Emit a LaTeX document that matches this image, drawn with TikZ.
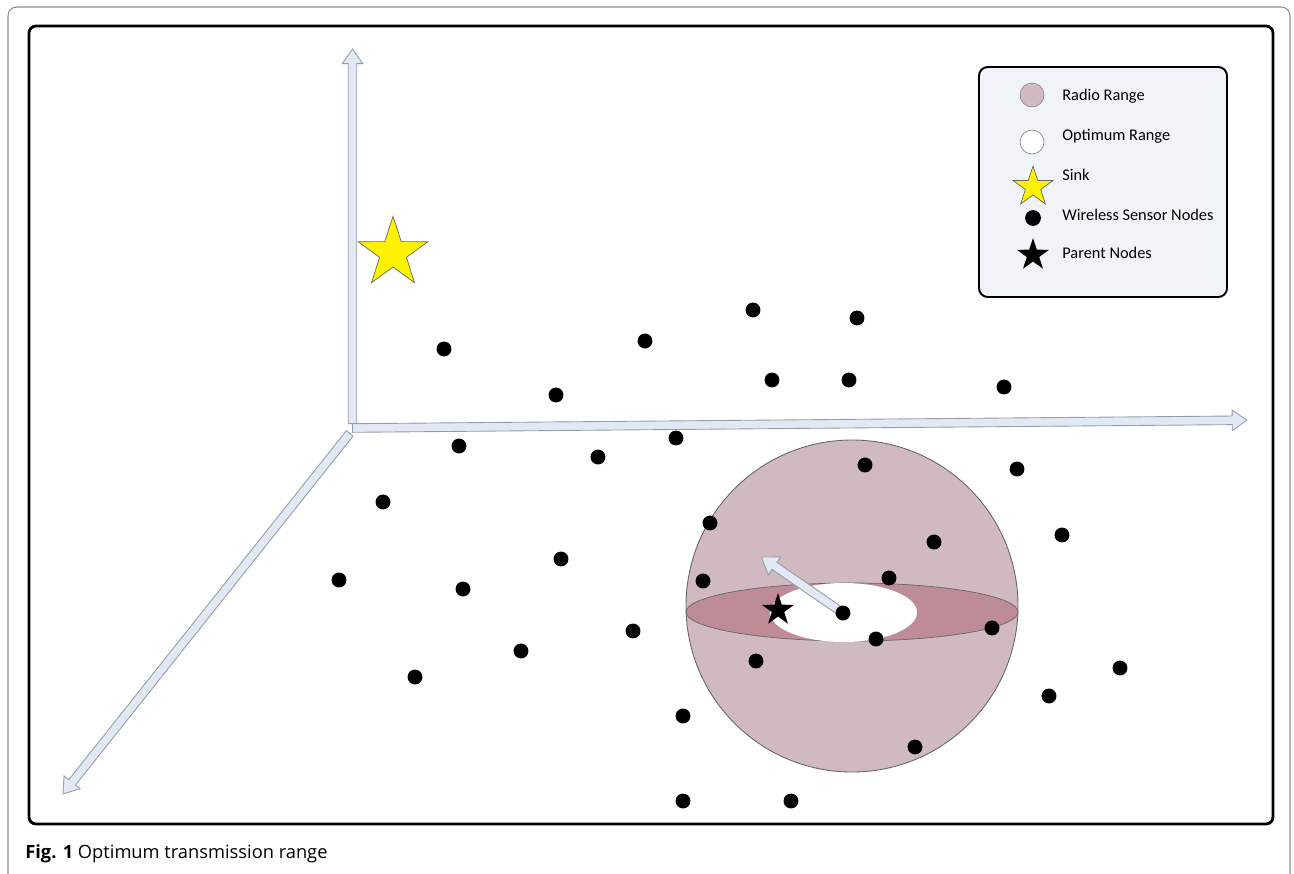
\documentclass[tikz,border=0pt]{standalone}
\usepackage{fontspec}
\setmainfont{Carlito}
\newfontfamily\capfont{Open Sans}
\usetikzlibrary{shapes.geometric,shapes.arrows}
\definecolor{axisfill}{RGB}{226,233,245}
\definecolor{axisedge}{RGB}{150,156,168}
\definecolor{radiofill}{RGB}{209,185,193}
\definecolor{ringfill}{RGB}{189,140,150}
\definecolor{legendfill}{RGB}{240,243,248}

\begin{document}
\begin{tikzpicture}[x=0.02cm, y=-0.02cm,
    sensor/.style={circle, fill=black, inner sep=0pt, minimum size=8.5pt},
    axisarrow/.style={single arrow, draw=axisedge, fill=axisfill, line width=0.5pt,
      inner xsep=0pt, inner ysep=2.2pt, single arrow head extend=3.4pt,
      single arrow tip angle=70, single arrow head indent=0pt, anchor=tail},
    sinkstar/.style={star, star points=5, star point ratio=2.6, fill=yellow,
      draw=black!60, line width=0.4pt, inner sep=0pt},
    parentstar/.style={star, star points=5, star point ratio=2.6, fill=black, inner sep=0pt},
    legendtext/.style={anchor=west, inner sep=0pt, font=\fontsize{9.3}{10}\selectfont}]
    \useasboundingbox (0,0) rectangle (1294,873);
    \clip (0,0) rectangle (1294,873);

    % Frames
    \draw[black!45, line width=0.6pt, rounded corners=5pt] (8,7) rectangle (1290,900);
    \draw[black, line width=1.6pt, rounded corners=4pt] (29,26) rectangle (1273,824);

    % Axes
    \coordinate (o) at (352,428);
    \node[axisarrow, minimum height=213.2pt, rotate=90] (yaxis) at (352.5,424) {};
    \node[axisarrow, minimum height=262.2pt, rotate=231.5] (zaxis) at (350,433) {};
    \node[axisarrow, minimum height=509.1pt, rotate=0.5] (xaxis) at (o) {};

    % Sink
    \node[sinkstar, minimum size=41.7pt] (sink) at (393,253) {};

    % Radio range sphere
    \coordinate (c) at (843,613);
    \draw[black!60, line width=0.5pt, fill=radiofill] (852,606) circle [radius=166];
    \draw[black!60, line width=0.4pt, fill=ringfill] (852,612) ellipse [x radius=166, y radius=29];
    \fill[white] (843.5,612.5) ellipse [x radius=73.5, y radius=29.5];
    \node[axisarrow, minimum height=56pt, single arrow head extend=3.8pt, rotate=145.5] (range) at (c) {};
    \node[parentstar, minimum size=19.3pt] (parent) at (778,610) {};

    % Wireless sensor nodes
    \foreach \px/\py [count=\i] in {444/349, 556/395, 645/341, 753/310, 857/318,
        772/380, 849/380, 1004/387, 459/446, 598/457, 676/438, 865/465, 1017/469,
        383/502, 710/523, 934/542, 1062/535, 561/559, 339/580, 463/589, 703/581,
        889/578, 843/613, 876/639, 992/628, 633/631, 521/651, 756/661, 1120/668,
        415/677, 1049/696, 683/716, 915/747, 683/801, 791/801}
      \node[sensor] (s\i) at (\px,\py) {};

    % Legend
    \draw[black, line width=1.1pt, fill=legendfill, rounded corners=5pt] (979,67) rectangle (1227,297);
    \node[circle, draw=black!45, line width=0.4pt, fill=radiofill, minimum size=13.6pt, inner sep=0pt] (lradio) at (1032,95) {};
    \node[circle, draw=black!45, line width=0.4pt, fill=white, minimum size=13.6pt, inner sep=0pt] (lopt) at (1032,142) {};
    \node[sinkstar, minimum size=23.8pt] (lsink) at (1033,187) {};
    \node[sensor, minimum size=9pt] (lsensor) at (1033,218) {};
    \node[parentstar, minimum size=19.3pt] (lparent) at (1033,255) {};
    \node[legendtext] (tradio) at (1062,96) {Radio Range};
    \node[legendtext] (topt) at (1062,136) {Optimum Range};
    \node[legendtext] (tsink) at (1062,175) {Sink};
    \node[legendtext] (tsensor) at (1062,215) {Wireless Sensor Nodes};
    \node[legendtext] (tparent) at (1062,253) {Parent Nodes};

    % Caption
    \node[anchor=base west, inner sep=0pt, font=\capfont\fontsize{10.4}{12}\selectfont] (caption) at (25,858)
      {\textbf{Fig. 1} Optimum transmission range};
\end{tikzpicture}
\end{document}
